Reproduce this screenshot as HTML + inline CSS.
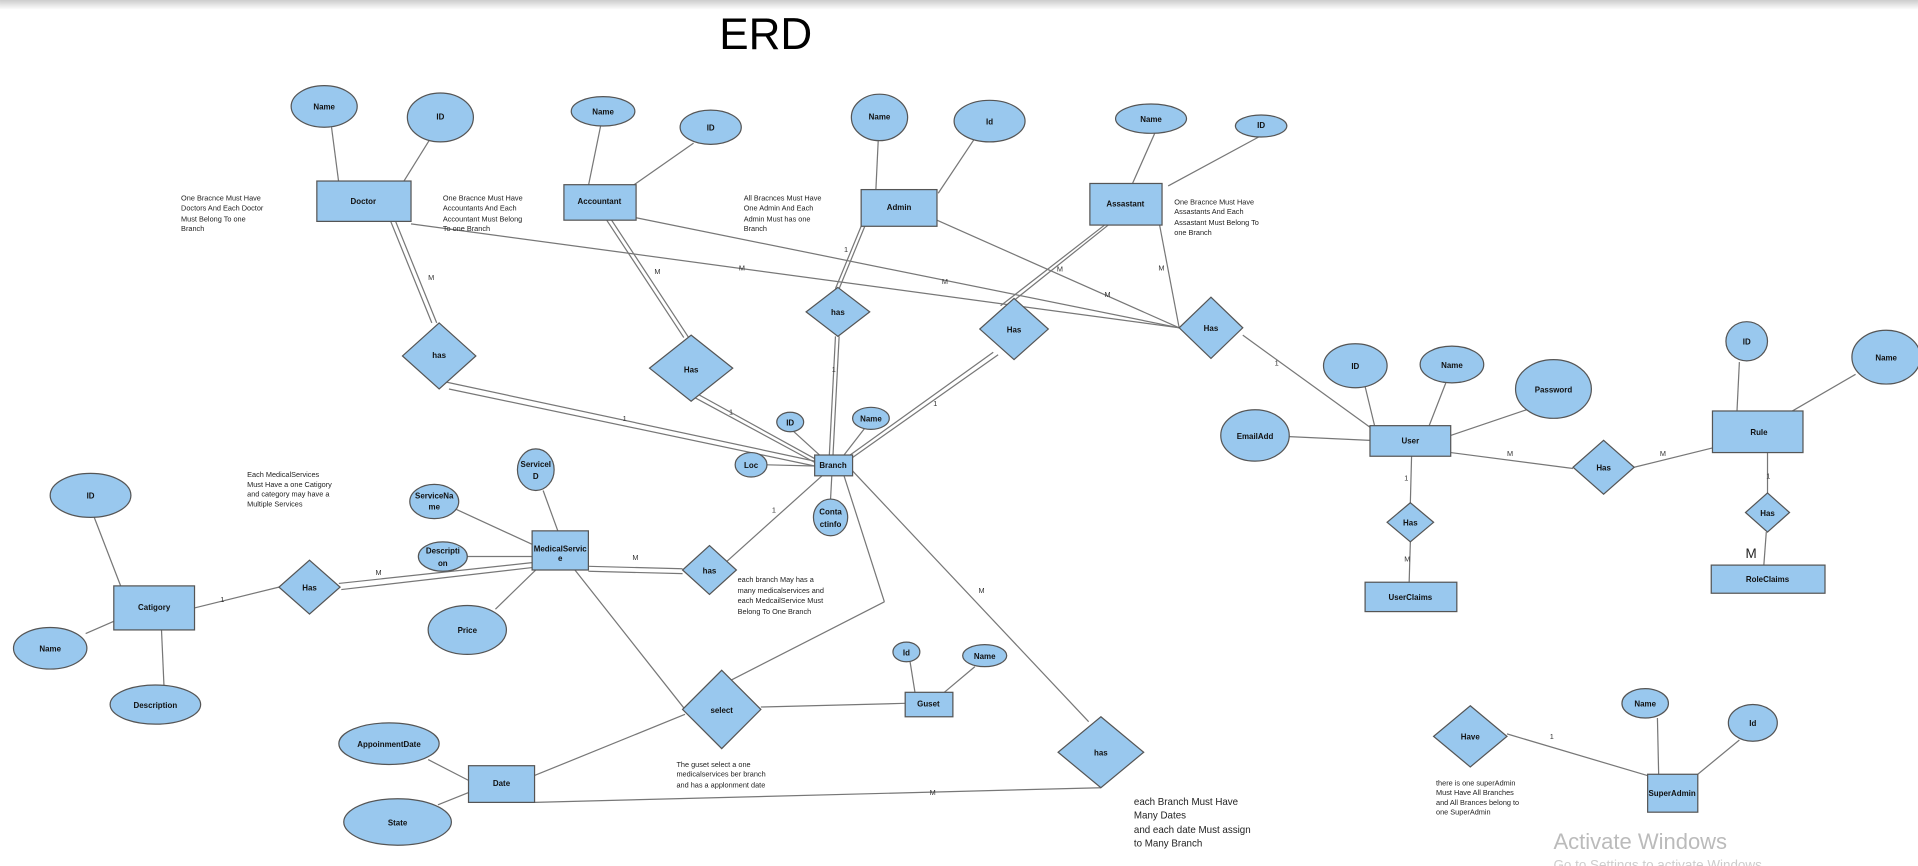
<!DOCTYPE html>
<html><head><meta charset="utf-8"><style>
html,body{margin:0;padding:0;background:#fff;width:1918px;height:866px;overflow:hidden}
svg{display:block}
text{font-family:"Liberation Sans",sans-serif}
.e{fill:#99c8ee;stroke:#555;stroke-width:1}
.l{stroke:#777;stroke-width:1;fill:none}
.b{font-size:6.5px;font-weight:bold;fill:#111;text-anchor:middle;dominant-baseline:middle}
.n{font-size:6px;fill:#222}
.c{font-size:6px;fill:#333}
</style></head><body>
<svg width="1918" height="866" viewBox="0 0 1568 708" xmlns="http://www.w3.org/2000/svg">
<defs><linearGradient id="g" x1="0" y1="0" x2="0" y2="1"><stop offset="0" stop-color="#ccc"/><stop offset="1" stop-color="#fff"/></linearGradient></defs>
<rect x="0" y="0" width="1568" height="8" fill="url(#g)"/>
<text x="626" y="40" font-size="36" text-anchor="middle" fill="#000">ERD</text>

<g class="l">
<line x1="271" y1="104" x2="277" y2="150"/><line x1="352" y1="113" x2="329" y2="150"/>
<line x1="491" y1="103" x2="481" y2="152"/><line x1="567" y1="117" x2="517" y2="152"/>
<line x1="718" y1="114" x2="716" y2="156"/><line x1="797" y1="113" x2="767" y2="158"/>
<line x1="944" y1="109" x2="925" y2="152"/><line x1="1029" y1="112" x2="955" y2="152"/>
<line x1="319" y1="180" x2="353" y2="264"/><line x1="323" y1="180" x2="357" y2="264"/>
<line x1="363" y1="312" x2="666" y2="377"/><line x1="367" y1="318" x2="666" y2="381"/>
<line x1="496" y1="180" x2="559" y2="276"/><line x1="500" y1="180" x2="563" y2="276"/>
<line x1="566" y1="324" x2="666" y2="378"/><line x1="570" y1="322" x2="668" y2="376"/>
<line x1="704" y1="185" x2="683" y2="236"/><line x1="707" y1="185" x2="686" y2="236"/>
<line x1="683" y1="275" x2="678" y2="372"/><line x1="686" y1="275" x2="681" y2="372"/>
<line x1="903" y1="184" x2="818" y2="250"/><line x1="906" y1="184" x2="821" y2="252"/>
<line x1="812" y1="288" x2="695" y2="372"/><line x1="816" y1="290" x2="697" y2="374"/>
<line x1="336" y1="183" x2="964" y2="268"/><line x1="520" y1="178" x2="964" y2="268"/>
<line x1="766" y1="180" x2="964" y2="268"/><line x1="948" y1="184" x2="964" y2="268"/>
<line x1="1016" y1="274" x2="1121" y2="350"/>
<line x1="648" y1="352" x2="670" y2="372"/><line x1="707" y1="350" x2="690" y2="372"/>
<line x1="627" y1="380" x2="666" y2="381"/><line x1="680" y1="389" x2="679" y2="408"/>
<line x1="672" y1="389" x2="593" y2="460"/>
<line x1="690" y1="389" x2="723" y2="492"/><line x1="723" y1="492" x2="590" y2="560"/>
<line x1="697" y1="385" x2="890" y2="590"/>
<line x1="1116" y1="316" x2="1124" y2="349"/><line x1="1182" y1="313" x2="1168" y2="349"/>
<line x1="1248" y1="335" x2="1186" y2="356"/><line x1="1054" y1="357" x2="1120" y2="360"/>
<line x1="1186" y1="370" x2="1286" y2="383"/><line x1="1336" y1="382" x2="1405" y2="365"/>
<line x1="1154" y1="373" x2="1153" y2="411"/><line x1="1153" y1="443" x2="1152" y2="477"/>
<line x1="1422" y1="296" x2="1420" y2="337"/><line x1="1517" y1="306" x2="1455" y2="342"/>
<line x1="1445" y1="370" x2="1445" y2="403"/><line x1="1444" y1="435" x2="1442" y2="462"/>
<line x1="77" y1="423" x2="99" y2="480"/><line x1="70" y1="518" x2="93" y2="508"/>
<line x1="132" y1="515" x2="134" y2="560"/><line x1="159" y1="497" x2="228" y2="480"/>
<line x1="277" y1="477" x2="435" y2="460"/><line x1="279" y1="482" x2="435" y2="464"/>
<line x1="444" y1="401" x2="456" y2="434"/><line x1="372" y1="416" x2="435" y2="445"/>
<line x1="382" y1="455" x2="435" y2="455"/><line x1="405" y1="498" x2="438" y2="466"/>
<line x1="481" y1="463" x2="558" y2="465"/><line x1="481" y1="467" x2="558" y2="469"/>
<line x1="470" y1="466" x2="560" y2="580"/>
<line x1="622" y1="578" x2="740" y2="575"/>
<line x1="744" y1="541" x2="748" y2="566"/><line x1="797" y1="545" x2="772" y2="566"/>
<line x1="560" y1="584" x2="437" y2="634"/>
<line x1="350" y1="621" x2="383" y2="638"/><line x1="358" y1="658" x2="383" y2="648"/>
<line x1="437" y1="656" x2="900" y2="644"/>
<line x1="1232" y1="600" x2="1350" y2="635"/>
<line x1="1355" y1="587" x2="1356" y2="633"/><line x1="1422" y1="605" x2="1388" y2="633"/>
</g>

<g class="c">
<text x="350" y="229">M</text><text x="535" y="224">M</text><text x="604" y="221">M</text><text x="770" y="232">M</text><text x="903" y="243">M</text>
<text x="864" y="222">M</text><text x="947" y="221">M</text><text x="690" y="206">1</text><text x="680" y="304">1</text>
<text x="509" y="344">1</text><text x="596" y="339">1</text><text x="763" y="332">1</text><text x="1042" y="299">1</text>
<text x="1232" y="373">M</text><text x="1357" y="373">M</text><text x="1148" y="393">1</text><text x="1148" y="459">M</text>
<text x="1444" y="391">1</text><text x="180" y="492">1</text><text x="307" y="470">M</text><text x="517" y="458">M</text>
<text x="631" y="419">1</text><text x="800" y="485">M</text><text x="760" y="650">M</text><text x="1267" y="604">1</text>
</g>
<text x="1427" y="456" font-size="11" fill="#222">M</text>

<g class="e">
<ellipse cx="265" cy="87" rx="27" ry="17"/><ellipse cx="360" cy="96" rx="27" ry="20"/>
<ellipse cx="493" cy="91" rx="26" ry="12"/><ellipse cx="581" cy="104" rx="25" ry="14"/>
<ellipse cx="719" cy="96" rx="23" ry="19"/><ellipse cx="809" cy="99" rx="29" ry="17"/>
<ellipse cx="941" cy="97" rx="29" ry="12"/><ellipse cx="1031" cy="103" rx="21" ry="9"/>
<ellipse cx="646" cy="345" rx="11" ry="8"/><ellipse cx="712" cy="342" rx="15" ry="9"/>
<ellipse cx="614" cy="380" rx="13" ry="10"/><ellipse cx="679" cy="423" rx="14" ry="15"/>
<ellipse cx="1108" cy="299" rx="26" ry="18"/><ellipse cx="1187" cy="298" rx="26" ry="15"/>
<ellipse cx="1270" cy="318" rx="31" ry="24"/><ellipse cx="1026" cy="356" rx="28" ry="21"/>
<ellipse cx="1428" cy="279" rx="17" ry="16"/><ellipse cx="1542" cy="292" rx="28" ry="22"/>
<ellipse cx="74" cy="405" rx="33" ry="18"/><ellipse cx="41" cy="530" rx="30" ry="17"/><ellipse cx="127" cy="576" rx="37" ry="16"/>
<ellipse cx="438" cy="384" rx="15" ry="17"/><ellipse cx="355" cy="410" rx="20" ry="14"/>
<ellipse cx="362" cy="455" rx="20" ry="12"/><ellipse cx="382" cy="515" rx="32" ry="20"/>
<ellipse cx="741" cy="533" rx="11" ry="8"/><ellipse cx="805" cy="536" rx="18" ry="9"/>
<ellipse cx="318" cy="608" rx="41" ry="17"/><ellipse cx="325" cy="672" rx="44" ry="19"/>
<ellipse cx="1345" cy="575" rx="19" ry="12"/><ellipse cx="1433" cy="591" rx="20" ry="15"/>
</g>
<g class="e">
<rect x="259" y="148" width="77" height="33"/><rect x="461" y="151" width="59" height="29"/>
<rect x="704" y="155" width="62" height="30"/><rect x="891" y="150" width="59" height="34"/>
<rect x="666" y="372" width="31" height="17"/><rect x="1120" y="348" width="66" height="25"/>
<rect x="1400" y="336" width="74" height="34"/><rect x="1116" y="476" width="75" height="24"/>
<rect x="1399" y="462" width="93" height="23"/><rect x="93" y="479" width="66" height="36"/>
<rect x="435" y="434" width="46" height="32"/><rect x="740" y="566" width="39" height="20"/>
<rect x="383" y="626" width="54" height="30"/><rect x="1347" y="633" width="41" height="31"/>
</g>
<g class="e">
<polygon points="359,264 389,291 359,318 329,291"/>
<polygon points="565,274 599,301 565,328 531,301"/>
<polygon points="685,235 711,255 685,275 659,255"/>
<polygon points="829,244 857,269 829,294 801,269"/>
<polygon points="990,243 1016,268 990,293 964,268"/>
<polygon points="1311,360 1336,382 1311,404 1286,382"/>
<polygon points="1153,411 1172,427 1153,443 1134,427"/>
<polygon points="1445,403 1463,419 1445,435 1427,419"/>
<polygon points="253,458 278,480 253,502 228,480"/>
<polygon points="580,446 602,466 580,486 558,466"/>
<polygon points="590,548 622,580 590,612 558,580"/>
<polygon points="900,586 935,615 900,644 865,615"/>
<polygon points="1202,577 1232,602 1202,627 1172,602"/>
</g>
<g class="b">
<text x="265" y="88">Name</text><text x="360" y="96">ID</text><text x="493" y="92">Name</text><text x="581" y="105">ID</text>
<text x="719" y="96">Name</text><text x="809" y="100">Id</text><text x="941" y="98">Name</text><text x="1031" y="103">ID</text>
<text x="297" y="165">Doctor</text><text x="490" y="165">Accountant</text><text x="735" y="170">Admin</text><text x="920" y="167">Assastant</text>
<text x="359" y="291">has</text><text x="565" y="303">Has</text><text x="685" y="256">has</text><text x="829" y="270">Has</text><text x="990" y="269">Has</text>
<text x="646" y="346">ID</text><text x="712" y="343">Name</text><text x="614" y="381">Loc</text><text x="681" y="381">Branch</text>
<text x="679" y="419">Conta</text><text x="679" y="429">ctinfo</text>
<text x="1108" y="300">ID</text><text x="1187" y="299">Name</text><text x="1270" y="319">Password</text><text x="1026" y="357">EmailAdd</text>
<text x="1153" y="361">User</text><text x="1311" y="383">Has</text><text x="1438" y="354">Rule</text><text x="1428" y="280">ID</text><text x="1542" y="293">Name</text>
<text x="1153" y="428">Has</text><text x="1153" y="489">UserClaims</text><text x="1445" y="420">Has</text><text x="1445" y="474">RoleClaims</text>
<text x="74" y="406">ID</text><text x="41" y="531">Name</text><text x="127" y="577">Description</text><text x="126" y="497">Catigory</text>
<text x="253" y="481">Has</text>
<text x="438" y="380">ServiceI</text><text x="438" y="390">D</text>
<text x="355" y="406">ServiceNa</text><text x="355" y="415">me</text>
<text x="362" y="451">Descripti</text><text x="362" y="461">on</text>
<text x="382" y="516">Price</text>
<text x="458" y="449">MedicalServic</text><text x="458" y="457">e</text>
<text x="580" y="467">has</text><text x="590" y="581">select</text><text x="759" y="576">Guset</text>
<text x="741" y="534">Id</text><text x="805" y="537">Name</text>
<text x="410" y="641">Date</text><text x="318" y="609">AppoinmentDate</text><text x="325" y="673">State</text>
<text x="900" y="616">has</text><text x="1202" y="603">Have</text><text x="1367" y="649">SuperAdmin</text>
<text x="1345" y="576">Name</text><text x="1433" y="592">Id</text>
</g>
<g class="n">
<text x="148" y="164">One Bracnce Must Have</text><text x="148" y="172">Doctors And Each Doctor</text><text x="148" y="181">Must Belong To one</text><text x="148" y="189">Branch</text>
<text x="362" y="164">One Bracnce Must Have</text><text x="362" y="172">Accountants And Each</text><text x="362" y="181">Accountant Must Belong</text><text x="362" y="189">To one Branch</text>
<text x="608" y="164">All Bracnces Must Have</text><text x="608" y="172">One Admin And Each</text><text x="608" y="181">Admin  Must has  one</text><text x="608" y="189">Branch</text>
<text x="960" y="167">One Bracnce Must Have</text><text x="960" y="175">Assastants And Each</text><text x="960" y="184">Assastant Must Belong To</text><text x="960" y="192">one Branch</text>
<text x="202" y="390">Each MedicalServices</text><text x="202" y="398">Must Have a one Catigory</text><text x="202" y="406">and category may have a</text><text x="202" y="414">Multiple Services</text>
<text x="603" y="476">each branch May has a</text><text x="603" y="485">many medicalservices and</text><text x="603" y="493">each MedcailService Must</text><text x="603" y="502">Belong To One Branch</text>
<text x="553" y="627">The guset select a one</text><text x="553" y="635">medicalservices ber branch</text><text x="553" y="644">and has a applonment date</text>
<text x="1174" y="642">there is one superAdmin</text><text x="1174" y="650">Must Have All Branches</text><text x="1174" y="658">and All Brances belong to</text><text x="1174" y="666">one SuperAdmin</text>
</g>
<g font-size="8" fill="#222"><text x="927" y="658">each Branch Must Have</text><text x="927" y="669">Many Dates</text><text x="927" y="681">and each date Must assign</text><text x="927" y="692">to Many Branch</text></g>
<text x="1270" y="694" font-size="18" fill="#bbb">Activate Windows</text>
<text x="1270" y="711" font-size="11" fill="#ccc">Go to Settings to activate Windows.</text>
</svg>
</body></html>
